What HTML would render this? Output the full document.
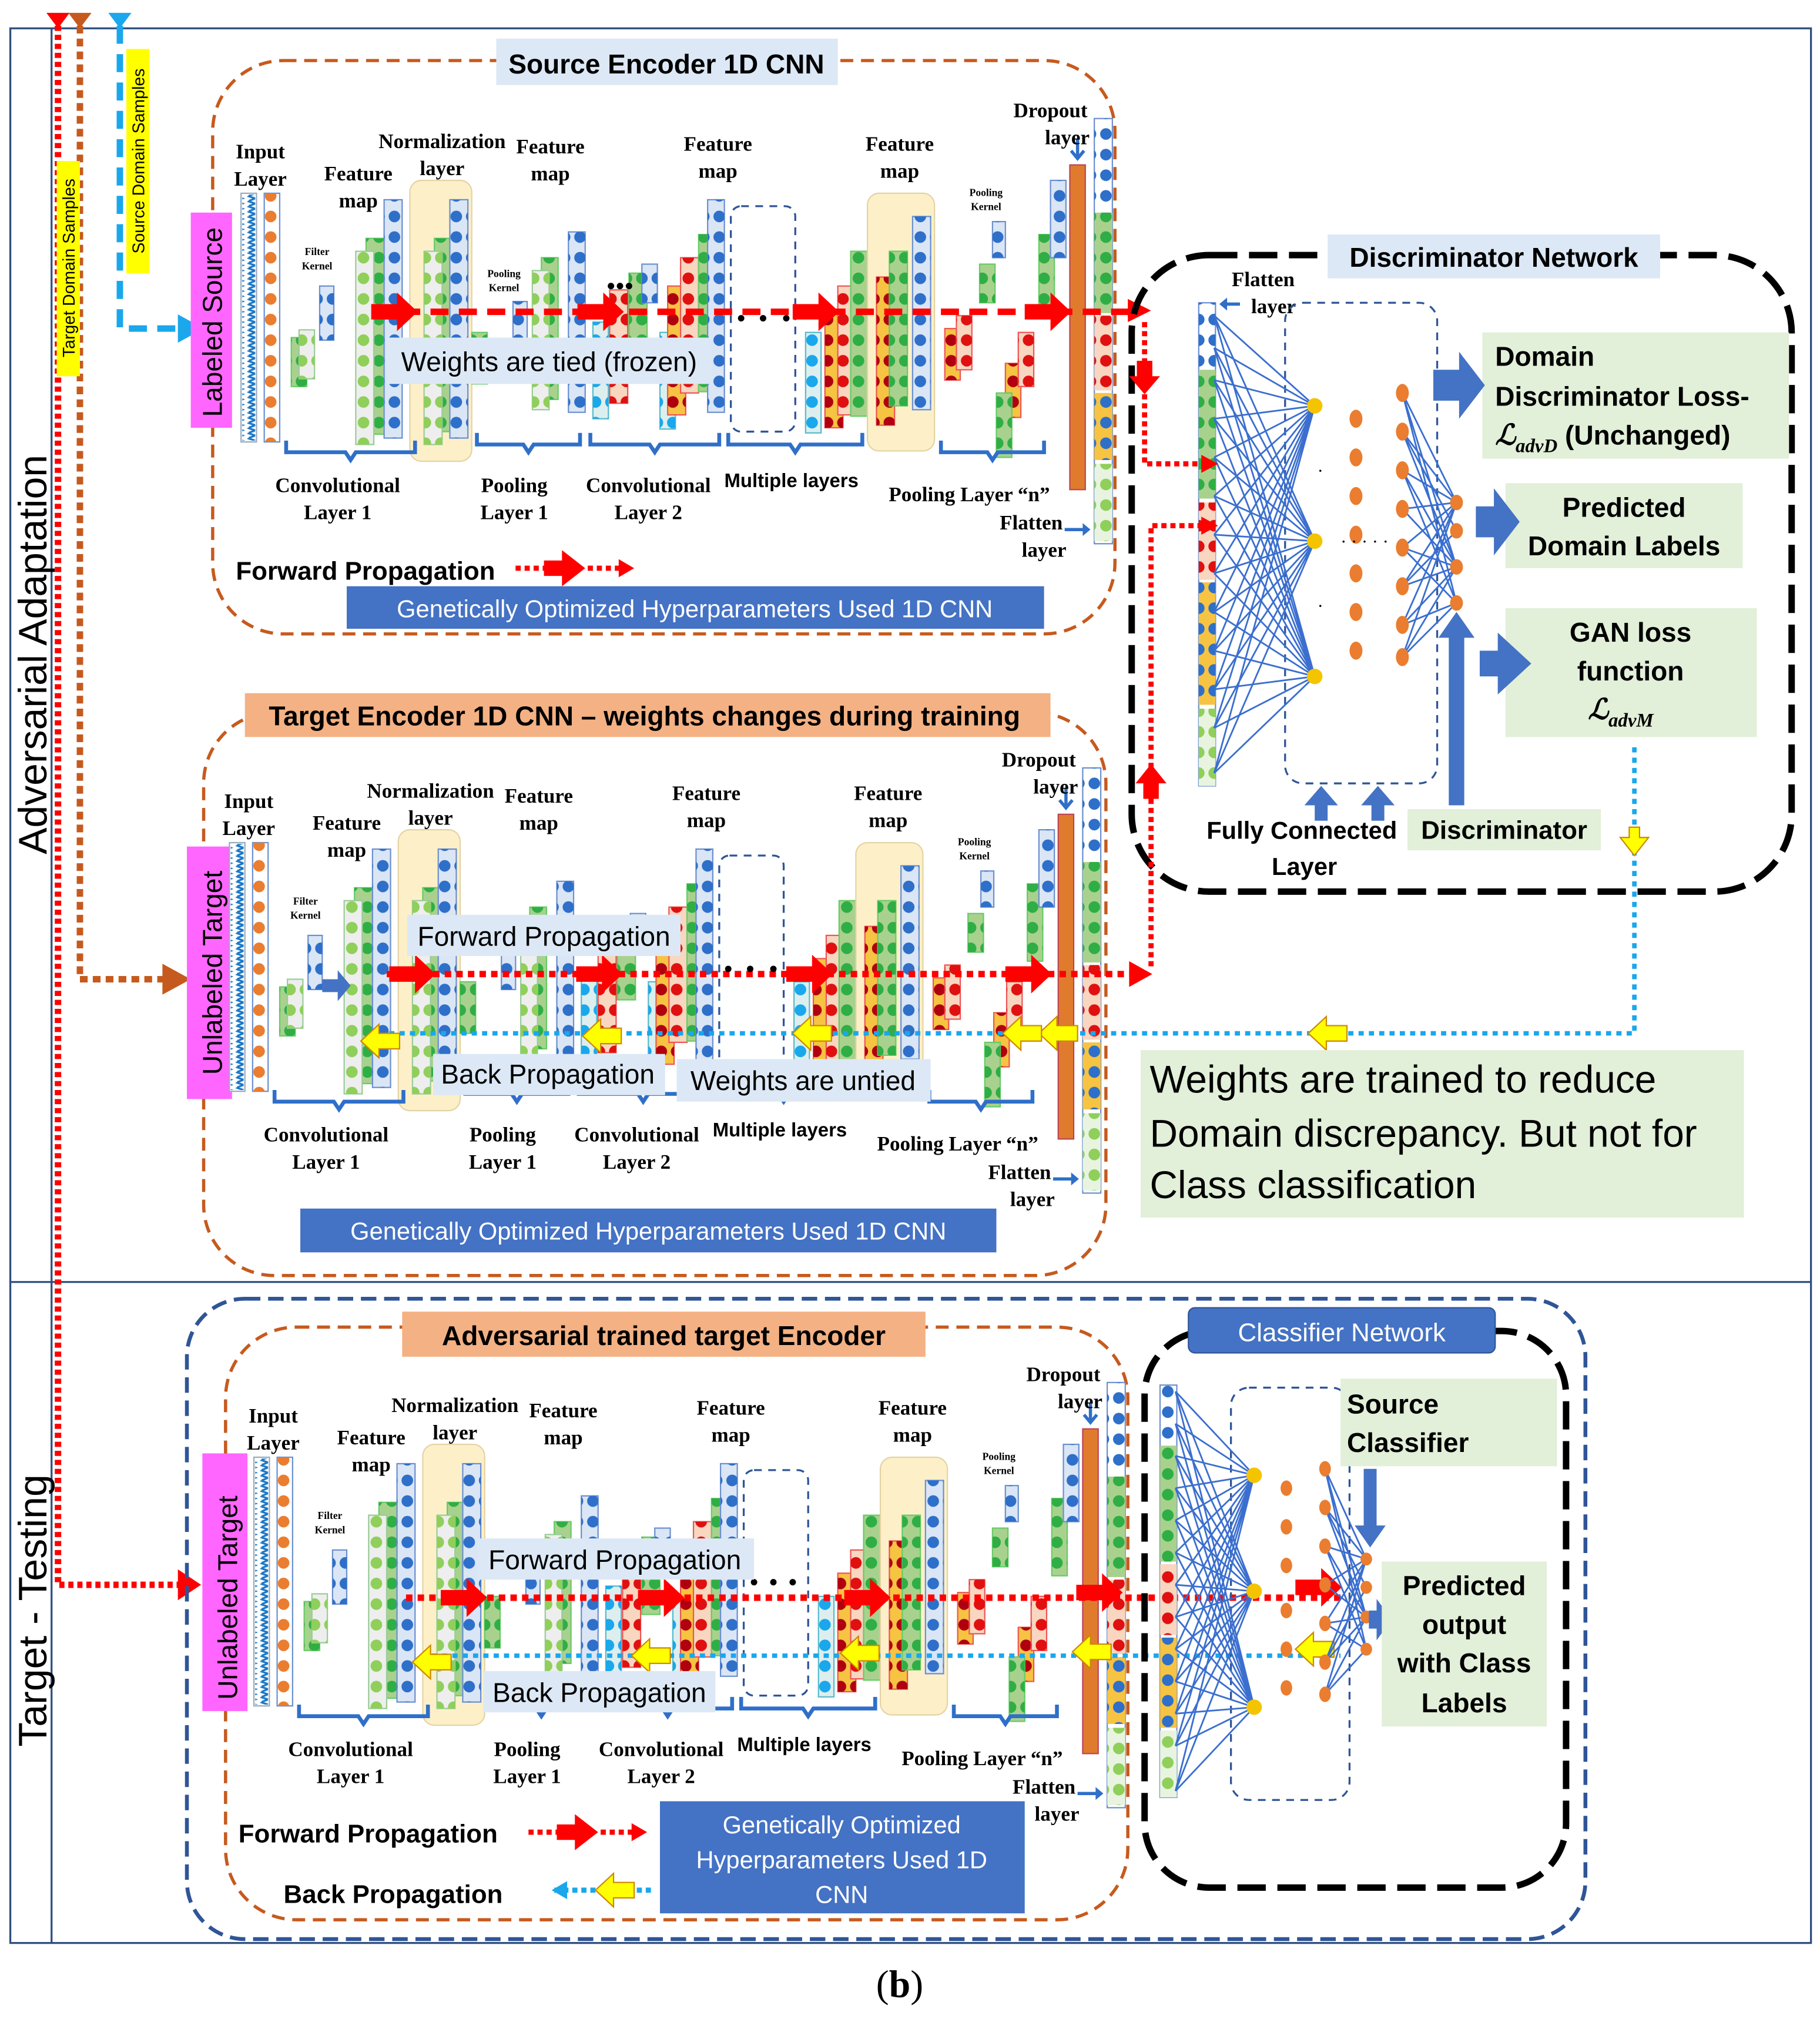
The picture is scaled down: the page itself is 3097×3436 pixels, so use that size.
<!DOCTYPE html>
<html><head><meta charset="utf-8"><style>
html,body{margin:0;padding:0;background:#fff}
svg{display:block}
.s{font-family:"Liberation Serif",serif;font-weight:bold;font-size:16px;fill:#000;text-anchor:middle}
.k{font-family:"Liberation Serif",serif;font-weight:bold;font-size:8px;fill:#000;text-anchor:middle}
.a{font-family:"Liberation Sans",sans-serif;fill:#000}
.ab{font-family:"Liberation Sans",sans-serif;font-weight:bold;fill:#000}
</style></head><body>
<svg width="3097" height="3436" viewBox="0 0 1412 1567" preserveAspectRatio="none" xmlns="http://www.w3.org/2000/svg">
<defs>
<pattern id="pb" width="12" height="16" patternUnits="userSpaceOnUse"><circle cx="6" cy="8" r="4.5" fill="#2e6fc9"/></pattern>
<pattern id="pg" width="12" height="16" patternUnits="userSpaceOnUse"><circle cx="6" cy="8" r="4.5" fill="#2fae45"/></pattern>
<pattern id="plg" width="12" height="16" patternUnits="userSpaceOnUse"><circle cx="6" cy="8" r="4.5" fill="#8fcf5a"/></pattern>
<pattern id="po" width="12" height="16" patternUnits="userSpaceOnUse"><circle cx="6" cy="8" r="4.5" fill="#ea7d2f"/></pattern>
<pattern id="pr" width="12" height="16" patternUnits="userSpaceOnUse"><circle cx="6" cy="8" r="4.5" fill="#e01010"/></pattern>
<pattern id="pc" width="12" height="16" patternUnits="userSpaceOnUse"><circle cx="6" cy="8" r="4.5" fill="#1aa7ec"/></pattern>
<pattern id="pdr" width="12" height="16" patternUnits="userSpaceOnUse"><circle cx="6" cy="8" r="4.5" fill="#b00010"/></pattern>
<pattern id="wv" width="10" height="4" patternUnits="userSpaceOnUse"><path d="M2 0L8 2L3 4" stroke="#1a78c8" stroke-width="1.5" fill="none"/></pattern>
<g id="enc">
 <rect x="187" y="150" width="12" height="193" fill="#fff" stroke="#9ab"/>
 <rect x="188" y="151" width="10" height="191" fill="url(#wv)"/>
 <rect x="205" y="150" width="12" height="193" fill="#fff" stroke="#6b8fd0"/>
 <rect x="205" y="150" width="12" height="193" fill="url(#po)"/>
 <rect x="226" y="262" width="12" height="38" fill="#a9d18e" stroke="#6c6"/><rect x="226" y="262" width="12" height="38" fill="url(#pg)"/>
 <rect x="232" y="256" width="12" height="38" fill="#eee" stroke="#9c9"/><rect x="232" y="256" width="12" height="38" fill="url(#plg)"/>
 <rect x="248" y="222" width="11" height="42" fill="#dae6f5" stroke="#6b8fd0"/><rect x="248" y="222" width="11" height="42" fill="url(#pb)"/>
 <rect x="284" y="185" width="14" height="152" fill="#a9d18e" stroke="#6c6"/><rect x="284" y="185" width="14" height="152" fill="url(#pg)"/>
 <rect x="276" y="195" width="14" height="150" fill="#eee" stroke="#9c9"/><rect x="276" y="195" width="14" height="150" fill="url(#plg)"/>
 <rect x="298" y="155" width="14" height="185" fill="#dae6f5" stroke="#6b8fd0"/><rect x="298" y="155" width="14" height="185" fill="url(#pb)"/>
 <rect x="318" y="140" width="48" height="218" rx="9" fill="#fdf0c8" stroke="#e3d3a5"/>
 <rect x="337" y="185" width="14" height="150" fill="#a9d18e" stroke="#6c6"/><rect x="337" y="185" width="14" height="150" fill="url(#pg)"/>
 <rect x="329" y="195" width="14" height="150" fill="#eee" stroke="#9c9"/><rect x="329" y="195" width="14" height="150" fill="url(#plg)"/>
 <rect x="349" y="155" width="14" height="185" fill="#dae6f5" stroke="#6b8fd0"/><rect x="349" y="155" width="14" height="185" fill="url(#pb)"/>
 <rect x="366" y="258" width="12" height="40" fill="#a9d18e" stroke="#6c6"/><rect x="366" y="258" width="12" height="40" fill="url(#pg)"/>
 <rect x="398" y="234" width="11" height="30" fill="#dae6f5" stroke="#6b8fd0"/><rect x="398" y="234" width="11" height="30" fill="url(#pb)"/>
 <rect x="420" y="200" width="13" height="110" fill="#a9d18e" stroke="#6c6"/><rect x="420" y="200" width="13" height="110" fill="url(#pg)"/>
 <rect x="413" y="210" width="13" height="108" fill="#eee" stroke="#9c9"/><rect x="413" y="210" width="13" height="108" fill="url(#plg)"/>
 <rect x="441" y="180" width="13" height="140" fill="#dae6f5" stroke="#6b8fd0"/><rect x="441" y="180" width="13" height="140" fill="url(#pb)"/>
 <rect x="460" y="250" width="12" height="75" fill="#ddeeee" stroke="#5bc"/><rect x="460" y="250" width="12" height="75" fill="url(#pc)"/>
 <rect x="473" y="225" width="14" height="88" fill="#f8d6c0" stroke="#e55"/><rect x="473" y="225" width="14" height="88" fill="url(#pr)"/>
 <rect x="488" y="212" width="14" height="60" fill="#a9d18e" stroke="#6c6"/><rect x="488" y="212" width="14" height="60" fill="url(#pg)"/>
 <rect x="498" y="205" width="12" height="30" fill="#dae6f5" stroke="#6b8fd0"/><rect x="498" y="205" width="12" height="30" fill="url(#pb)"/>
 <circle cx="474" cy="222" r="2.5"/><circle cx="481" cy="222" r="2.5"/><circle cx="488" cy="222" r="2.5"/>
 <rect x="512" y="258" width="12" height="75" fill="#ddeeee" stroke="#5bc"/><rect x="512" y="258" width="12" height="75" fill="url(#pc)"/>
 <rect x="518" y="222" width="14" height="100" fill="#f6c342" stroke="#e55"/><rect x="518" y="222" width="14" height="100" fill="url(#pdr)"/>
 <rect x="528" y="200" width="14" height="105" fill="#f8d6c0" stroke="#e55"/><rect x="528" y="200" width="14" height="105" fill="url(#pr)"/>
 <rect x="542" y="182" width="14" height="122" fill="#a9d18e" stroke="#6c6"/><rect x="542" y="182" width="14" height="122" fill="url(#pg)"/>
 <rect x="549" y="155" width="13" height="165" fill="#dae6f5" stroke="#6b8fd0"/><rect x="549" y="155" width="13" height="165" fill="url(#pb)"/>
 <rect x="567" y="160" width="50" height="175" rx="8" fill="none" stroke="#2f5597" stroke-width="1.5" stroke-dasharray="6 5"/>
 <rect x="625" y="258" width="12" height="78" fill="#ddeeee" stroke="#5bc"/><rect x="625" y="258" width="12" height="78" fill="url(#pc)"/>
 <rect x="640" y="240" width="14" height="92" fill="#f6c342" stroke="#e55"/><rect x="640" y="240" width="14" height="92" fill="url(#pdr)"/>
 <rect x="650" y="222" width="14" height="100" fill="#f8d6c0" stroke="#e55"/><rect x="650" y="222" width="14" height="100" fill="url(#pr)"/>
 <rect x="660" y="195" width="13" height="128" fill="#a9d18e" stroke="#6c6"/><rect x="660" y="195" width="13" height="128" fill="url(#pg)"/>
 <rect x="673" y="150" width="52" height="200" rx="9" fill="#fdf0c8" stroke="#e3d3a5"/>
 <rect x="680" y="215" width="14" height="115" fill="#f6c342" stroke="#e55"/><rect x="680" y="215" width="14" height="115" fill="url(#pdr)"/>
 <rect x="690" y="195" width="14" height="120" fill="#a9d18e" stroke="#6c6"/><rect x="690" y="195" width="14" height="120" fill="url(#pg)"/>
 <rect x="708" y="168" width="14" height="150" fill="#dae6f5" stroke="#6b8fd0"/><rect x="708" y="168" width="14" height="150" fill="url(#pb)"/>
 <rect x="733" y="255" width="12" height="40" fill="#f6c342" stroke="#e55"/><rect x="733" y="255" width="12" height="40" fill="url(#pdr)"/>
 <rect x="742" y="245" width="12" height="42" fill="#f8d6c0" stroke="#e55"/><rect x="742" y="245" width="12" height="42" fill="url(#pr)"/>
 <rect x="760" y="205" width="12" height="30" fill="#a9d18e" stroke="#6c6"/><rect x="760" y="205" width="12" height="30" fill="url(#pg)"/>
 <rect x="770" y="172" width="10" height="28" fill="#dae6f5" stroke="#6b8fd0"/><rect x="770" y="172" width="10" height="28" fill="url(#pb)"/>
 <rect x="780" y="282" width="12" height="42" fill="#f6c342" stroke="#e55"/><rect x="780" y="282" width="12" height="42" fill="url(#pdr)"/>
 <rect x="790" y="258" width="12" height="42" fill="#f8d6c0" stroke="#e55"/><rect x="790" y="258" width="12" height="42" fill="url(#pr)"/>
 <rect x="773" y="305" width="12" height="50" fill="#a9d18e" stroke="#6c6"/><rect x="773" y="305" width="12" height="50" fill="url(#pg)"/>
 <rect x="806" y="182" width="12" height="60" fill="#a9d18e" stroke="#6c6"/><rect x="806" y="182" width="12" height="60" fill="url(#pg)"/>
 <rect x="815" y="140" width="12" height="60" fill="#dae6f5" stroke="#6b8fd0"/><rect x="815" y="140" width="12" height="60" fill="url(#pb)"/>
 <rect x="830" y="128" width="12" height="252" fill="#e07b2e" stroke="#b45"/>
 <rect x="849" y="92" width="14" height="330" fill="#fff" stroke="#6b8fd0"/>
 <rect x="849" y="92" width="14" height="70" fill="url(#pb)"/>
 <rect x="849" y="165" width="14" height="78" fill="#a9d18e"/><rect x="849" y="165" width="14" height="78" fill="url(#pg)"/>
 <rect x="849" y="245" width="14" height="58" fill="#f8d6c0"/><rect x="849" y="245" width="14" height="58" fill="url(#pr)"/>
 <rect x="849" y="305" width="14" height="52" fill="#f6c342"/><rect x="849" y="305" width="14" height="52" fill="url(#pb)"/>
 <rect x="849" y="360" width="14" height="60" fill="#e8f4e0"/><rect x="849" y="360" width="14" height="60" fill="url(#plg)"/>
 <g fill="none" stroke="#2f6fc9" stroke-width="3">
  <path d="M222 342v9h46l4 6l4-6h46v-9"/>
  <path d="M370 336v9h36l4 6l4-6h36v-9"/>
  <path d="M458 336v9h46l4 6l4-6h46v-9"/>
  <path d="M565 336v9h48l4 6l4-6h48v-9"/>
  <path d="M730 342v9h36l4 6l4-6h36v-9"/>
 </g>
 <path d="M836 108v14M831 117l5 6l5-6" stroke="#2f6fc9" stroke-width="2.5" fill="none"/>
 <path d="M826 411h16" stroke="#2f6fc9" stroke-width="2.5"/><path d="M840 406l6 5l-6 5z" fill="#2f6fc9"/>
</g>
<g id="rarr"><path d="M0 -6h20v-9l16 15l-16 15v-9h-20z" fill="#f00"/></g>
<g id="yarr"><path d="M0 0l14-13v7h16v12h-16v7z" fill="#ff0" stroke="#c80" stroke-width="1"/></g>
</defs>

<!-- frame -->
<rect x="8" y="22" width="1397" height="1486" fill="none" stroke="#2f4f7f" stroke-width="1.5"/>
<line x1="40" y1="22" x2="40" y2="1508" stroke="#2f4f7f" stroke-width="1.5"/>
<line x1="8" y1="995" x2="1405" y2="995" stroke="#2f4f7f" stroke-width="1.5"/>
<text class="a" font-size="31" transform="translate(36,508) rotate(-90)" text-anchor="middle">Adversarial Adaptation</text>
<text class="a" font-size="31" transform="translate(36,1250) rotate(-90)" text-anchor="middle">Target - Testing</text>

<!-- sample feeds -->
<path d="M45 20V1230H140" fill="none" stroke="#f00" stroke-width="5" stroke-dasharray="4 3"/>
<path d="M138 1218l18 12l-18 12z" fill="#f00"/>
<path d="M62 20V760H128" fill="none" stroke="#c65a1e" stroke-width="5" stroke-dasharray="6 4"/>
<path d="M126 748l22 12l-22 12z" fill="#c65a1e"/>
<path d="M93 20V255H140" fill="none" stroke="#1aa7ec" stroke-width="5" stroke-dasharray="14 8"/>
<path d="M138 244l20 11l-20 11z" fill="#1aa7ec"/>
<path d="M36 10h18l-9 12z" fill="#f00"/><path d="M53 10h18l-9 12z" fill="#c65a1e"/><path d="M84 10h18l-9 12z" fill="#1aa7ec"/>
<rect x="44" y="125" width="18" height="167" fill="#ff0"/>
<text class="a" font-size="13" transform="translate(58,208) rotate(-90)" text-anchor="middle">Target Domain Samples</text>
<rect x="98" y="38" width="18" height="174" fill="#ff0"/>
<text class="a" font-size="13" transform="translate(112,125) rotate(-90)" text-anchor="middle">Source Domain Samples</text>

<!-- ========== SOURCE ENCODER ========== -->
<rect x="165" y="47" width="700" height="445" rx="55" fill="none" stroke="#c65a1e" stroke-width="2.5" stroke-dasharray="10 6"/>
<rect x="385" y="30" width="265" height="36" fill="#dce8f5"/>
<text class="ab" x="517" y="57" font-size="21" text-anchor="middle">Source Encoder 1D CNN</text>
<rect x="148" y="165" width="32" height="167" fill="#ff66ff"/>
<text class="a" font-size="21" transform="translate(172,250) rotate(-90)" text-anchor="middle">Labeled Source</text>
<use href="#enc"/>
<line x1="290" y1="242" x2="880" y2="242" stroke="#f00" stroke-width="5" stroke-dasharray="14 8"/>
<use href="#rarr" transform="translate(288,242)"/><use href="#rarr" transform="translate(448,242)"/><use href="#rarr" transform="translate(615,242)"/><use href="#rarr" transform="translate(795,242)"/>
<path d="M875 232l18 9l-18 9z" fill="#f00"/>
<circle cx="575" cy="247" r="2.5"/><circle cx="592" cy="247" r="2.5"/><circle cx="610" cy="247" r="2.5"/>
<rect x="300" y="262" width="252" height="36" fill="#dce8f5"/>
<text class="a" x="426" y="288" font-size="21" text-anchor="middle">Weights are tied (frozen)</text>
<g>
<text class="s" x="202" y="123">Input</text><text class="s" x="202" y="144">Layer</text>
<text class="s" x="278" y="140">Feature</text><text class="s" x="278" y="161">map</text>
<text class="s" x="343" y="115">Normalization</text><text class="s" x="343" y="136">layer</text>
<text class="s" x="427" y="119">Feature</text><text class="s" x="427" y="140">map</text>
<text class="s" x="557" y="117">Feature</text><text class="s" x="557" y="138">map</text>
<text class="s" x="698" y="117">Feature</text><text class="s" x="698" y="138">map</text>
<text class="s" x="815" y="91">Dropout</text><text class="s" x="828" y="112">layer</text>
<text class="k" x="765" y="152">Pooling</text><text class="k" x="765" y="163">Kernel</text>
<text class="k" x="246" y="198">Filter</text><text class="k" x="246" y="209">Kernel</text>
<text class="k" x="391" y="215">Pooling</text><text class="k" x="391" y="226">Kernel</text>
<text class="s" x="262" y="382">Convolutional</text><text class="s" x="262" y="403">Layer 1</text>
<text class="s" x="399" y="382">Pooling</text><text class="s" x="399" y="403">Layer 1</text>
<text class="s" x="503" y="382">Convolutional</text><text class="s" x="503" y="403">Layer 2</text>
<text class="ab" x="614" y="378" font-size="15" text-anchor="middle">Multiple layers</text>
<text class="s" x="752" y="389">Pooling Layer “n”</text>
<text class="s" x="800" y="411">Flatten</text><text class="s" x="810" y="432">layer</text>
</g>
<text class="ab" x="183" y="450" font-size="20">Forward Propagation</text>
<path d="M400 441h24" stroke="#f00" stroke-width="4" stroke-dasharray="4 3"/>
<path d="M422 435h14v-8l18 14l-18 14v-8h-14z" fill="#f00"/>
<path d="M456 441h26" stroke="#f00" stroke-width="4" stroke-dasharray="4 3"/><path d="M480 434l12 7l-12 7z" fill="#f00"/>
<rect x="269" y="455" width="541" height="33" fill="#4472c4"/>
<text class="a" x="539" y="479" font-size="19" fill="#fff" style="fill:#fff" text-anchor="middle">Genetically Optimized Hyperparameters Used  1D CNN</text>

<!-- ========== DISCRIMINATOR ========== -->
<rect x="878" y="198" width="512" height="494" rx="60" fill="none" stroke="#000" stroke-width="5" stroke-dasharray="22 9"/>
<rect x="1030" y="182" width="258" height="34" fill="#dce8f5"/>
<text class="ab" x="1159" y="207" font-size="21" text-anchor="middle">Discriminator Network</text>
<text class="s" x="980" y="222">Flatten</text><text class="s" x="988" y="243">layer</text>
<path d="M962 236h-12" stroke="#2f6fc9" stroke-width="2.5"/><path d="M952 231l-6 5l6 5z" fill="#2f6fc9"/>
<rect x="930" y="235" width="13" height="375" fill="#fff" stroke="#6b8fd0"/>
<rect x="930" y="235" width="13" height="50" fill="url(#pb)"/>
<rect x="930" y="287" width="13" height="100" fill="#a9d18e"/><rect x="930" y="287" width="13" height="100" fill="url(#pg)"/>
<rect x="930" y="390" width="13" height="60" fill="#f8d6c0"/><rect x="930" y="390" width="13" height="60" fill="url(#pr)"/>
<rect x="930" y="452" width="13" height="95" fill="#f6c342"/><rect x="930" y="452" width="13" height="95" fill="url(#pb)"/>
<rect x="930" y="550" width="13" height="60" fill="#e8f4e0"/><rect x="930" y="550" width="13" height="60" fill="url(#plg)"/>
<rect x="997" y="235" width="118" height="373" rx="14" fill="none" stroke="#2f5597" stroke-width="1.5" stroke-dasharray="6 5"/>
<g stroke="#3b6fcf" stroke-width="1.3" fill="none">
<path d="M942 245L1020 315M942 270L1020 315M942 295L1020 315M942 325L1020 315M942 355L1020 315M942 385L1020 315M942 415L1020 315M942 445L1020 315M942 475L1020 315M942 505L1020 315M942 535L1020 315M942 565L1020 315M942 600L1020 315"/>
<path d="M942 245L1020 420M942 270L1020 420M942 295L1020 420M942 325L1020 420M942 355L1020 420M942 385L1020 420M942 415L1020 420M942 445L1020 420M942 475L1020 420M942 505L1020 420M942 535L1020 420M942 565L1020 420M942 600L1020 420"/>
<path d="M942 245L1020 525M942 270L1020 525M942 295L1020 525M942 325L1020 525M942 355L1020 525M942 385L1020 525M942 415L1020 525M942 445L1020 525M942 475L1020 525M942 505L1020 525M942 535L1020 525M942 565L1020 525M942 600L1020 525"/>
<path d="M1088 305L1130 390M1088 335L1130 390M1088 365L1130 390M1088 395L1130 390M1088 425L1130 390M1088 455L1130 390M1088 485L1130 390M1088 510L1130 390M1088 305L1130 440M1088 335L1130 440M1088 365L1130 440M1088 395L1130 440M1088 425L1130 440M1088 455L1130 440M1088 485L1130 440M1088 510L1130 440M1088 305L1130 468M1088 365L1130 468M1088 425L1130 468M1088 485L1130 468M1088 510L1130 468M1088 335L1130 412M1088 455L1130 412"/>
</g>
<circle cx="1020" cy="315" r="6" fill="#f5c400"/><circle cx="1020" cy="420" r="6" fill="#f5c400"/><circle cx="1020" cy="525" r="6" fill="#f5c400"/>
<g fill="#ea7d2f">
<ellipse cx="1052" cy="325" rx="5" ry="7"/><ellipse cx="1052" cy="355" rx="5" ry="7"/><ellipse cx="1052" cy="385" rx="5" ry="7"/><ellipse cx="1052" cy="415" rx="5" ry="7"/><ellipse cx="1052" cy="445" rx="5" ry="7"/><ellipse cx="1052" cy="475" rx="5" ry="7"/><ellipse cx="1052" cy="505" rx="5" ry="7"/>
<ellipse cx="1088" cy="305" rx="5" ry="7"/><ellipse cx="1088" cy="335" rx="5" ry="7"/><ellipse cx="1088" cy="365" rx="5" ry="7"/><ellipse cx="1088" cy="395" rx="5" ry="7"/><ellipse cx="1088" cy="425" rx="5" ry="7"/><ellipse cx="1088" cy="455" rx="5" ry="7"/><ellipse cx="1088" cy="485" rx="5" ry="7"/><ellipse cx="1088" cy="510" rx="5" ry="7"/>
<ellipse cx="1130" cy="390" rx="5" ry="6"/><ellipse cx="1130" cy="412" rx="5" ry="6"/><ellipse cx="1130" cy="440" rx="5" ry="6"/><ellipse cx="1130" cy="468" rx="5" ry="6"/>
</g>
<text x="1022" y="370" font-size="14">·</text><text x="1022" y="475" font-size="14">·</text>
<text x="1040" y="425" font-size="14">· · · · ·</text>
<rect x="1150" y="258" width="238" height="98" fill="#e2efd9"/>
<text class="ab" x="1160" y="284" font-size="21">Domain</text>
<text class="ab" x="1160" y="315" font-size="21">Discriminator Loss-</text>
<text x="1160" y="345" font-size="22" font-family="Liberation Serif,serif" font-style="italic" font-weight="bold">ℒ<tspan font-size="15" dy="6">advD</tspan><tspan dy="-6" font-style="normal" font-family="Liberation Sans,sans-serif" font-size="21"> (Unchanged)</tspan></text>
<rect x="1168" y="375" width="184" height="66" fill="#e2efd9"/>
<text class="ab" x="1260" y="401" font-size="21" text-anchor="middle">Predicted</text>
<text class="ab" x="1260" y="431" font-size="21" text-anchor="middle">Domain Labels</text>
<rect x="1168" y="472" width="195" height="100" fill="#e2efd9"/>
<text class="ab" x="1265" y="498" font-size="21" text-anchor="middle">GAN loss</text>
<text class="ab" x="1265" y="528" font-size="21" text-anchor="middle">function</text>
<text x="1232" y="558" font-size="22" font-family="Liberation Serif,serif" font-style="italic" font-weight="bold">ℒ<tspan font-size="15" dy="6">advM</tspan></text>
<g fill="#4472c4">
<path d="M1112 287h20v-14l20 26l-20 26v-14h-20z"/>
<path d="M1145 393h14v-14l20 26l-20 26v-14h-14z"/>
<path d="M1148 505h14v-14l26 24l-26 24v-14h-14z"/>
<path d="M1124 625v-130h-8l14-20l14 20h-8v130z"/>
<path d="M1020 637v-12h-8l13-15l13 15h-8v12z"/>
<path d="M1064 637v-12h-8l13-15l13 15h-8v12z"/>
</g>
<text class="ab" x="1010" y="651" font-size="19" text-anchor="middle">Fully Connected</text>
<text class="ab" x="1012" y="679" font-size="19" text-anchor="middle">Layer</text>
<rect x="1092" y="628" width="150" height="32" fill="#e2efd9"/>
<text class="ab" x="1167" y="651" font-size="20" text-anchor="middle">Discriminator</text>

<!-- red links into discriminator -->
<path d="M888 250V360H935" fill="none" stroke="#f00" stroke-width="4" stroke-dasharray="4 3"/>
<path d="M932 353l13 7l-13 7z" fill="#f00"/>
<path d="M882 280h12v12h6l-12 14l-12-14h6z" fill="#f00"/>
<path d="M893 750V408H935" fill="none" stroke="#f00" stroke-width="4" stroke-dasharray="4 3"/>
<path d="M932 401l13 7l-13 7z" fill="#f00"/>
<path d="M887 620v-12h-6l12-15l12 15h-6v12z" fill="#f00"/>

<!-- ========== TARGET ENCODER ========== -->
<rect x="158" y="553" width="700" height="437" rx="55" fill="none" stroke="#c65a1e" stroke-width="2.5" stroke-dasharray="10 6"/>
<rect x="190" y="538" width="625" height="34" fill="#f4b183"/>
<text class="ab" x="500" y="563" font-size="21" text-anchor="middle">Target Encoder 1D CNN – weights changes during training</text>
<rect x="145" y="657" width="35" height="196" fill="#ff66ff"/>
<text class="a" font-size="21" transform="translate(172,755) rotate(-90)" text-anchor="middle">Unlabeled Target</text>
<g transform="translate(-9,504)">
<use href="#enc"/>
<text class="s" x="202" y="123">Input</text><text class="s" x="202" y="144">Layer</text>
<text class="s" x="278" y="140">Feature</text><text class="s" x="278" y="161">map</text>
<text class="s" x="343" y="115">Normalization</text><text class="s" x="343" y="136">layer</text>
<text class="s" x="427" y="119">Feature</text><text class="s" x="427" y="140">map</text>
<text class="s" x="557" y="117">Feature</text><text class="s" x="557" y="138">map</text>
<text class="s" x="698" y="117">Feature</text><text class="s" x="698" y="138">map</text>
<text class="s" x="815" y="91">Dropout</text><text class="s" x="828" y="112">layer</text>
<text class="k" x="765" y="152">Pooling</text><text class="k" x="765" y="163">Kernel</text>
<text class="k" x="246" y="198">Filter</text><text class="k" x="246" y="209">Kernel</text>
<text class="s" x="262" y="382">Convolutional</text><text class="s" x="262" y="403">Layer 1</text>
<text class="s" x="399" y="382">Pooling</text><text class="s" x="399" y="403">Layer 1</text>
<text class="s" x="503" y="382">Convolutional</text><text class="s" x="503" y="403">Layer 2</text>
<text class="ab" x="614" y="378" font-size="15" text-anchor="middle">Multiple layers</text>
<text class="s" x="752" y="389">Pooling Layer “n”</text>
<text class="s" x="800" y="411">Flatten</text><text class="s" x="810" y="432">layer</text>
</g>
<path d="M250 760h12v-7l10 12l-10 12v-7h-12z" fill="#4472c4"/>
<line x1="300" y1="756" x2="880" y2="756" stroke="#f00" stroke-width="5" stroke-dasharray="5 4"/>
<use href="#rarr" transform="translate(302,756)"/><use href="#rarr" transform="translate(447,756)"/><use href="#rarr" transform="translate(610,756)"/><use href="#rarr" transform="translate(780,756)"/>
<path d="M876 746l18 10l-18 10z" fill="#f00"/>
<circle cx="565" cy="752" r="2.5"/><circle cx="582" cy="752" r="2.5"/><circle cx="600" cy="752" r="2.5"/>
<rect x="316" y="710" width="212" height="32" fill="#dce8f5"/>
<text class="a" x="422" y="734" font-size="21" text-anchor="middle">Forward Propagation</text>
<path d="M1268 580V802H300" fill="none" stroke="#1aa7ec" stroke-width="3.5" stroke-dasharray="4 4"/>
<path d="M1257 650h7v-8h8v8h7l-11 14z" fill="#ff0" stroke="#c80"/>
<use href="#yarr" transform="translate(1015,802)"/><use href="#yarr" transform="translate(806,802)"/><use href="#yarr" transform="translate(778,802)"/><use href="#yarr" transform="translate(615,802)"/><use href="#yarr" transform="translate(452,804)"/><use href="#yarr" transform="translate(280,808)"/>
<rect x="336" y="818" width="180" height="32" fill="#dce8f5"/>
<text class="a" x="425" y="841" font-size="21" text-anchor="middle">Back Propagation</text>
<rect x="525" y="822" width="197" height="33" fill="#dce8f5"/>
<text class="a" x="623" y="846" font-size="21" text-anchor="middle">Weights are untied</text>
<rect x="233" y="938" width="540" height="34" fill="#4472c4"/>
<text class="a" x="503" y="962" font-size="19" style="fill:#fff" text-anchor="middle">Genetically Optimized Hyperparameters Used  1D CNN</text>
<rect x="885" y="815" width="468" height="130" fill="#e2efd9"/>
<text class="a" x="892" y="848" font-size="30">Weights are trained to reduce</text>
<text class="a" x="892" y="890" font-size="30">Domain discrepancy. But not for</text>
<text class="a" x="892" y="930" font-size="30">Class classification</text>

<!-- ========== TESTING ========== -->
<rect x="145" y="1008" width="1085" height="497" rx="45" fill="none" stroke="#2f5597" stroke-width="3" stroke-dasharray="12 6"/>
<rect x="175" y="1030" width="700" height="460" rx="55" fill="none" stroke="#c65a1e" stroke-width="2.5" stroke-dasharray="10 6"/>
<rect x="312" y="1018" width="406" height="35" fill="#f4b183"/>
<text class="ab" x="515" y="1044" font-size="21" text-anchor="middle">Adversarial trained target Encoder</text>
<rect x="157" y="1128" width="35" height="200" fill="#ff66ff"/>
<text class="a" font-size="21" transform="translate(184,1240) rotate(-90)" text-anchor="middle">Unlabeled Target</text>
<g transform="translate(10,981)">
<use href="#enc"/>
<text class="s" x="202" y="123">Input</text><text class="s" x="202" y="144">Layer</text>
<text class="s" x="278" y="140">Feature</text><text class="s" x="278" y="161">map</text>
<text class="s" x="343" y="115">Normalization</text><text class="s" x="343" y="136">layer</text>
<text class="s" x="427" y="119">Feature</text><text class="s" x="427" y="140">map</text>
<text class="s" x="557" y="117">Feature</text><text class="s" x="557" y="138">map</text>
<text class="s" x="698" y="117">Feature</text><text class="s" x="698" y="138">map</text>
<text class="s" x="815" y="91">Dropout</text><text class="s" x="828" y="112">layer</text>
<text class="k" x="765" y="152">Pooling</text><text class="k" x="765" y="163">Kernel</text>
<text class="k" x="246" y="198">Filter</text><text class="k" x="246" y="209">Kernel</text>
<text class="s" x="262" y="382">Convolutional</text><text class="s" x="262" y="403">Layer 1</text>
<text class="s" x="399" y="382">Pooling</text><text class="s" x="399" y="403">Layer 1</text>
<text class="s" x="503" y="382">Convolutional</text><text class="s" x="503" y="403">Layer 2</text>
<text class="ab" x="614" y="378" font-size="15" text-anchor="middle">Multiple layers</text>
<text class="s" x="752" y="389">Pooling Layer “n”</text>
<text class="s" x="800" y="411">Flatten</text><text class="s" x="810" y="432">layer</text>
</g>
<line x1="315" y1="1240" x2="1040" y2="1240" stroke="#f00" stroke-width="5" stroke-dasharray="5 4"/>
<use href="#rarr" transform="translate(342,1240)"/><use href="#rarr" transform="translate(495,1240)"/><use href="#rarr" transform="translate(655,1240)"/><use href="#rarr" transform="translate(835,1236)"/><use href="#rarr" transform="translate(1005,1232)"/>
<circle cx="585" cy="1228" r="2.5"/><circle cx="600" cy="1228" r="2.5"/><circle cx="615" cy="1228" r="2.5"/>
<rect x="370" y="1194" width="215" height="32" fill="#dce8f5"/>
<text class="a" x="477" y="1218" font-size="21" text-anchor="middle">Forward Propagation</text>
<line x1="335" y1="1285" x2="1040" y2="1285" stroke="#1aa7ec" stroke-width="3.5" stroke-dasharray="4 4"/>
<use href="#yarr" transform="translate(320,1290)"/><use href="#yarr" transform="translate(490,1285)"/><use href="#yarr" transform="translate(652,1283)"/><use href="#yarr" transform="translate(832,1282)"/><use href="#yarr" transform="translate(1005,1280)"/>
<rect x="375" y="1297" width="180" height="32" fill="#dce8f5"/>
<text class="a" x="465" y="1321" font-size="21" text-anchor="middle">Back Propagation</text>
<text class="ab" x="185" y="1430" font-size="20">Forward Propagation</text>
<path d="M410 1422h22" stroke="#f00" stroke-width="4" stroke-dasharray="4 3"/>
<path d="M432 1416h14v-8l18 14l-18 14v-8h-14z" fill="#f00"/>
<path d="M466 1422h26" stroke="#f00" stroke-width="4" stroke-dasharray="4 3"/><path d="M490 1415l12 7l-12 7z" fill="#f00"/>
<text class="ab" x="220" y="1477" font-size="20">Back Propagation</text>
<path d="M430 1467h32" stroke="#1aa7ec" stroke-width="4" stroke-dasharray="4 3"/><path d="M428 1467l12-7v14z" fill="#1aa7ec"/>
<use href="#yarr" transform="translate(462,1467)"/>
<path d="M494 1467h12" stroke="#1aa7ec" stroke-width="4" stroke-dasharray="4 3"/>
<rect x="512" y="1398" width="283" height="87" fill="#4472c4"/>
<text class="a" x="653" y="1423" font-size="19" style="fill:#fff" text-anchor="middle">Genetically Optimized</text>
<text class="a" x="653" y="1450" font-size="19" style="fill:#fff" text-anchor="middle">Hyperparameters Used  1D</text>
<text class="a" x="653" y="1477" font-size="19" style="fill:#fff" text-anchor="middle">CNN</text>

<!-- classifier -->
<rect x="888" y="1033" width="327" height="432" rx="50" fill="none" stroke="#000" stroke-width="5" stroke-dasharray="22 9"/>
<rect x="922" y="1015" width="238" height="35" rx="5" fill="#4472c4" stroke="#2f5597"/>
<text class="a" x="1041" y="1041" font-size="20" style="fill:#fff" text-anchor="middle">Classifier Network</text>
<rect x="900" y="1075" width="13" height="320" fill="#fff" stroke="#6b8fd0"/>
<rect x="900" y="1075" width="13" height="45" fill="url(#pb)"/>
<rect x="900" y="1122" width="13" height="90" fill="#a9d18e"/><rect x="900" y="1122" width="13" height="90" fill="url(#pg)"/>
<rect x="900" y="1214" width="13" height="55" fill="#f8d6c0"/><rect x="900" y="1214" width="13" height="55" fill="url(#pr)"/>
<rect x="900" y="1271" width="13" height="70" fill="#f6c342"/><rect x="900" y="1271" width="13" height="70" fill="url(#pb)"/>
<rect x="900" y="1343" width="13" height="52" fill="#e8f4e0"/><rect x="900" y="1343" width="13" height="52" fill="url(#plg)"/>
<rect x="955" y="1077" width="92" height="320" rx="14" fill="none" stroke="#2f5597" stroke-width="1.5" stroke-dasharray="6 5"/>
<g stroke="#3b6fcf" stroke-width="1.3" fill="none">
<path d="M912 1080L973 1145M912 1105L973 1145M912 1130L973 1145M912 1155L973 1145M912 1180L973 1145M912 1205L973 1145M912 1230L973 1145M912 1255L973 1145M912 1280L973 1145M912 1305L973 1145M912 1330L973 1145M912 1355L973 1145M912 1390L973 1145"/>
<path d="M912 1080L973 1235M912 1105L973 1235M912 1130L973 1235M912 1155L973 1235M912 1180L973 1235M912 1205L973 1235M912 1230L973 1235M912 1255L973 1235M912 1280L973 1235M912 1305L973 1235M912 1330L973 1235M912 1355L973 1235M912 1390L973 1235"/>
<path d="M912 1080L973 1325M912 1105L973 1325M912 1130L973 1325M912 1155L973 1325M912 1180L973 1325M912 1205L973 1325M912 1230L973 1325M912 1255L973 1325M912 1280L973 1325M912 1305L973 1325M912 1330L973 1325M912 1355L973 1325M912 1390L973 1325"/>
<path d="M1028 1140L1060 1210M1028 1170L1060 1210M1028 1200L1060 1210M1028 1230L1060 1210M1028 1260L1060 1210M1028 1290L1060 1210M1028 1315L1060 1210M1028 1140L1060 1255M1028 1170L1060 1255M1028 1200L1060 1255M1028 1230L1060 1255M1028 1260L1060 1255M1028 1290L1060 1255M1028 1315L1060 1255M1028 1140L1060 1280M1028 1200L1060 1280M1028 1260L1060 1280M1028 1315L1060 1280M1028 1170L1060 1232M1028 1290L1060 1232"/>
</g>
<circle cx="973" cy="1145" r="6" fill="#f5c400"/><circle cx="973" cy="1235" r="6" fill="#f5c400"/><circle cx="973" cy="1325" r="6" fill="#f5c400"/>
<g fill="#ea7d2f">
<ellipse cx="998" cy="1155" rx="4.5" ry="6"/><ellipse cx="998" cy="1185" rx="4.5" ry="6"/><ellipse cx="998" cy="1215" rx="4.5" ry="6"/><ellipse cx="998" cy="1250" rx="4.5" ry="6"/><ellipse cx="998" cy="1280" rx="4.5" ry="6"/><ellipse cx="998" cy="1310" rx="4.5" ry="6"/>
<ellipse cx="1028" cy="1140" rx="4.5" ry="6"/><ellipse cx="1028" cy="1170" rx="4.5" ry="6"/><ellipse cx="1028" cy="1200" rx="4.5" ry="6"/><ellipse cx="1028" cy="1230" rx="4.5" ry="6"/><ellipse cx="1028" cy="1260" rx="4.5" ry="6"/><ellipse cx="1028" cy="1290" rx="4.5" ry="6"/><ellipse cx="1028" cy="1315" rx="4.5" ry="6"/>
<ellipse cx="1060" cy="1210" rx="4.5" ry="5"/><ellipse cx="1060" cy="1232" rx="4.5" ry="5"/><ellipse cx="1060" cy="1255" rx="4.5" ry="5"/><ellipse cx="1060" cy="1280" rx="4.5" ry="5"/>
</g>
<rect x="1040" y="1070" width="168" height="68" fill="#e2efd9"/>
<text class="ab" x="1045" y="1097" font-size="21">Source</text>
<text class="ab" x="1045" y="1127" font-size="21">Classifier</text>
<path d="M1058 1140v44h-7l12 17l12-17h-7v-44z" fill="#4472c4"/>
<path d="M1062 1250h6v-9l12 16l-12 16v-9h-6z" fill="#4472c4"/>
<rect x="1072" y="1212" width="128" height="128" fill="#e2efd9"/>
<text class="ab" x="1136" y="1238" font-size="21" text-anchor="middle">Predicted</text>
<text class="ab" x="1136" y="1268" font-size="21" text-anchor="middle">output</text>
<text class="ab" x="1136" y="1298" font-size="21" text-anchor="middle">with Class</text>
<text class="ab" x="1136" y="1329" font-size="21" text-anchor="middle">Labels</text>

<text x="698" y="1550" font-family="Liberation Serif,serif" font-size="30" text-anchor="middle">(<tspan font-weight="bold">b</tspan>)</text>
</svg>
</body></html>
